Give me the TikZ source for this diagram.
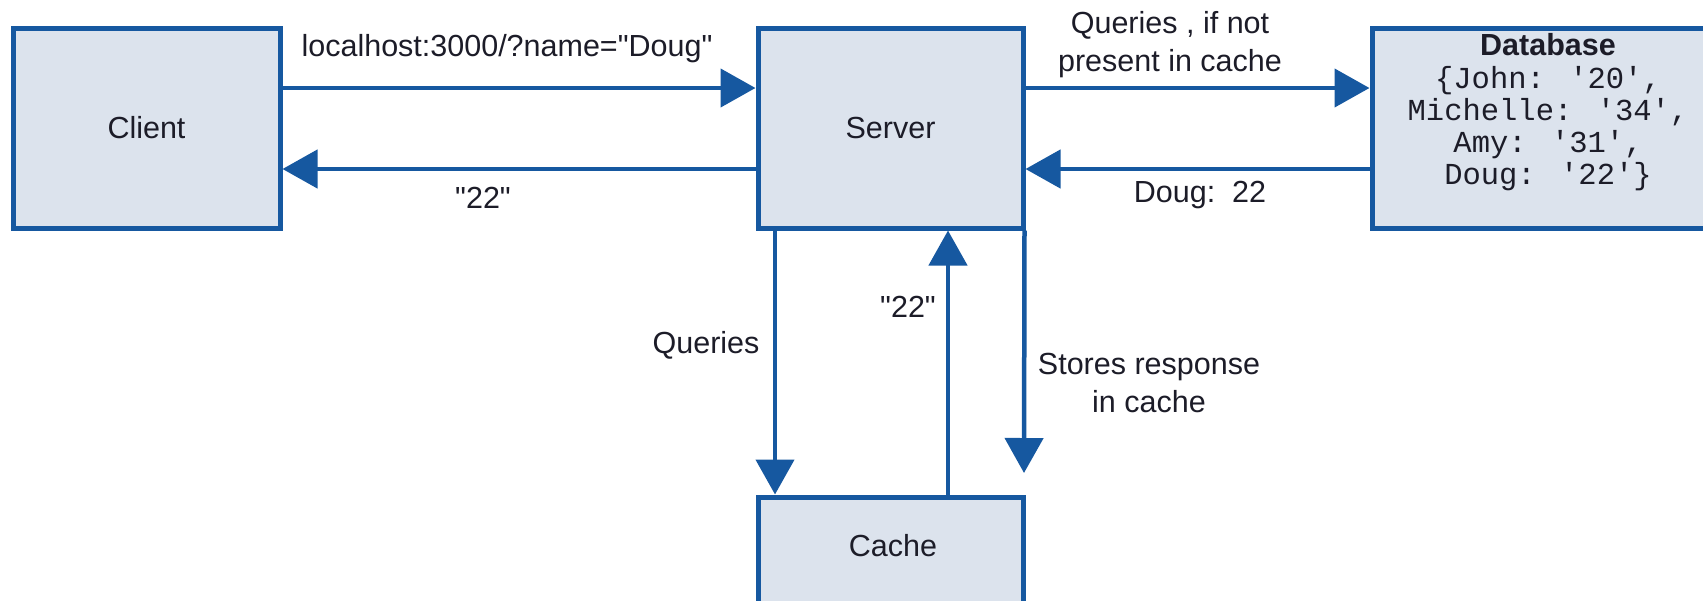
\documentclass[tikz,border=0pt]{standalone}
\usepackage{fontspec}
\setmainfont{Liberation Sans}[Ligatures=TeXOff]
\newfontfamily\monofnt{Liberation Mono}[Ligatures=TeXOff]
\usetikzlibrary{arrows.meta}
\definecolor{edgeblue}{RGB}{22,88,160}
\definecolor{boxfill}{RGB}{220,227,237}
\definecolor{txt}{RGB}{28,28,40}
\tikzset{
  box/.style={draw=edgeblue, fill=boxfill, line width=5pt, minimum width=265pt, minimum height=200pt, inner sep=0pt, text=txt},
  arr/.style={draw=edgeblue, line width=4.5pt, -{Triangle[length=35pt,width=38pt]}},
  lbl/.style={text=txt, inner sep=0pt, align=center},
  every node/.append style={font=\fontsize{30.5}{38}\selectfont}
}
\begin{document}
\begin{tikzpicture}[x=1pt,y=-1pt]
\useasboundingbox (0,0) rectangle (1703,600);
\clip (0,0) rectangle (1703,600);
\node[box, minimum width=267pt] (client) at (146.5,128) {Client};
\node[box] (server) at (890.5,128) {Server};
\node[box, minimum width=352pt] (db) at (1548,128) {};
\node[box, minimum height=130pt] (cache) at (890.5,562) {};
\node[lbl] (cachetext) at (893,546) {Cache};
\node[lbl, anchor=north, font=\fontsize{30.5}{32}\selectfont] (dbtext) at (1548,33)
  {\textbf{Database}\\[1pt]{\monofnt \{John: '20',}\\{\monofnt Michelle: '34',}\\{\monofnt Amy: '31',}\\{\monofnt Doug: '22'\}}};
\coordinate (storeend) at (1024,473);
% connectors
\draw[arr] ([yshift=40pt]client.east) -- ([yshift=40pt]server.west);
\draw[arr] ([yshift=-41pt]server.west) -- ([yshift=-41pt]client.east);
\draw[arr] ([yshift=40pt]server.east) -- ([yshift=40pt]db.west);
\draw[arr] ([yshift=-41pt]db.west) -- ([yshift=-41pt]server.east);
\draw[arr] ([xshift=-115.5pt]server.south) -- ([xshift=-115.5pt]cache.north);
\draw[arr] ([xshift=57.5pt]cache.north) -- ([xshift=57.5pt]server.south);
\draw[arr] ([xshift=-1pt]server.south east) -- (storeend);
% labels
\node[lbl] (l1) at (507,49) {localhost:3000/?name="Doug"};
\node[lbl] (l2) at (483,198) {"22"};
\node[lbl] (l3) at (1170,45) {Queries , if not\\present in cache};
\node[lbl] (l4) at (1200,195) {Doug:\ \ 22};
\node[lbl] (l5) at (706,345) {Queries};
\node[lbl] (l6) at (908,307) {"22"};
\node[lbl] (l7) at (1149,383) {Stores response\\in cache};
\end{tikzpicture}
\end{document}
